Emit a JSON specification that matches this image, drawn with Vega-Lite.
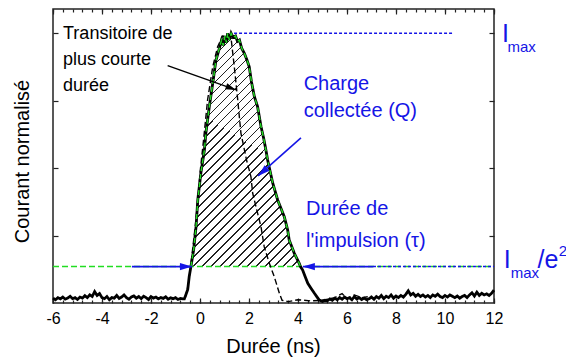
{
 "$schema": "https://vega.github.io/schema/vega-lite/v6.json",
 "width": 441, "height": 294,
 "autosize": "none",
 "padding": {"left": 53, "top": 9, "right": 72, "bottom": 56},
 "config": {"font": "Liberation Sans", "view": {"stroke": "#222", "strokeWidth": 1.5},
  "axis": {"domain": false, "grid": false, "tickColor": "#222", "tickWidth": 1.2, "labelColor": "#000", "titleColor": "#000", "titleFontWeight": "normal"}},
 "datasets": {
  "main": [
   {"x":-6.0,"y":0.018},{"x":-5.9,"y":0.012},{"x":-5.8,"y":0.02},{"x":-5.7,"y":0.015},{"x":-5.6,"y":0.022},{"x":-5.5,"y":0.014},{"x":-5.4,"y":0.018},{"x":-5.3,"y":0.025},{"x":-5.2,"y":0.016},{"x":-5.1,"y":0.02},{"x":-5.0,"y":0.013},{"x":-4.9,"y":0.022},{"x":-4.8,"y":0.018},{"x":-4.7,"y":0.027},{"x":-4.6,"y":0.02},{"x":-4.5,"y":0.03},{"x":-4.4,"y":0.024},{"x":-4.3,"y":0.042},{"x":-4.2,"y":0.028},{"x":-4.1,"y":0.035},{"x":-4.0,"y":0.02},{"x":-3.9,"y":0.016},{"x":-3.8,"y":0.024},{"x":-3.7,"y":0.012},{"x":-3.6,"y":0.02},{"x":-3.5,"y":0.018},{"x":-3.4,"y":0.028},{"x":-3.3,"y":0.017},{"x":-3.2,"y":0.022},{"x":-3.1,"y":0.03},{"x":-3.0,"y":0.02},{"x":-2.9,"y":0.014},{"x":-2.8,"y":0.022},{"x":-2.7,"y":0.026},{"x":-2.6,"y":0.018},{"x":-2.5,"y":0.024},{"x":-2.4,"y":0.016},{"x":-2.3,"y":0.025},{"x":-2.2,"y":0.02},{"x":-2.1,"y":0.013},{"x":-2.0,"y":0.024},{"x":-1.9,"y":0.018},{"x":-1.8,"y":0.022},{"x":-1.7,"y":0.015},{"x":-1.6,"y":0.02},{"x":-1.5,"y":0.017},{"x":-1.4,"y":0.023},{"x":-1.3,"y":0.014},{"x":-1.2,"y":0.019},{"x":-1.1,"y":0.016},{"x":-1.0,"y":0.02},{"x":-0.9,"y":0.013},{"x":-0.8,"y":0.017},{"x":-0.7,"y":0.015},
   {"x":-0.64,"y":0.015},{"x":-0.58,"y":0.03},{"x":-0.5,"y":0.05},{"x":-0.44,"y":0.098},{"x":-0.37,"y":0.135},{"x":-0.26,"y":0.197},{"x":-0.16,"y":0.284},{"x":-0.09,"y":0.382},{"x":0.04,"y":0.485},{"x":0.18,"y":0.567},{"x":0.24,"y":0.63},{"x":0.38,"y":0.728},{"x":0.52,"y":0.815},{"x":0.65,"y":0.9},{"x":0.79,"y":0.944},{"x":0.88,"y":0.975},{"x":0.95,"y":0.955},{"x":1.02,"y":0.99},{"x":1.08,"y":0.965},{"x":1.13,"y":1.0},{"x":1.2,"y":0.975},{"x":1.27,"y":1.0},{"x":1.35,"y":0.985},{"x":1.45,"y":0.99},{"x":1.53,"y":0.97},{"x":1.61,"y":0.975},{"x":1.7,"y":0.945},{"x":1.81,"y":0.926},{"x":1.92,"y":0.9},{"x":2.01,"y":0.876},{"x":2.1,"y":0.82},{"x":2.22,"y":0.765},{"x":2.35,"y":0.728},{"x":2.49,"y":0.654},{"x":2.6,"y":0.61},{"x":2.69,"y":0.567},{"x":2.76,"y":0.53},{"x":2.97,"y":0.444},{"x":3.17,"y":0.382},{"x":3.44,"y":0.32},{"x":3.58,"y":0.27},{"x":3.64,"y":0.234},{"x":3.85,"y":0.184},{"x":4.05,"y":0.147},{"x":4.1,"y":0.135},{"x":4.19,"y":0.122},{"x":4.29,"y":0.098},{"x":4.4,"y":0.073},{"x":4.53,"y":0.055},{"x":4.67,"y":0.036},{"x":4.78,"y":0.022},{"x":4.87,"y":0.011},
   {"x":5.0,"y":0.006},{"x":5.1,"y":0.01},{"x":5.2,"y":0.008},{"x":5.3,"y":0.015},{"x":5.4,"y":0.01},{"x":5.5,"y":0.018},{"x":5.6,"y":0.012},{"x":5.7,"y":0.02},{"x":5.8,"y":0.014},{"x":5.9,"y":0.022},{"x":6.0,"y":0.016},{"x":6.1,"y":0.02},{"x":6.2,"y":0.012},{"x":6.3,"y":0.024},{"x":6.4,"y":0.015},{"x":6.5,"y":0.02},{"x":6.6,"y":0.013},{"x":6.7,"y":0.018},{"x":6.8,"y":0.012},{"x":6.9,"y":0.016},{"x":7.0,"y":0.022},{"x":7.1,"y":0.014},{"x":7.2,"y":0.024},{"x":7.3,"y":0.018},{"x":7.4,"y":0.028},{"x":7.5,"y":0.016},{"x":7.6,"y":0.025},{"x":7.7,"y":0.02},{"x":7.8,"y":0.03},{"x":7.9,"y":0.018},{"x":8.0,"y":0.026},{"x":8.1,"y":0.02},{"x":8.2,"y":0.028},{"x":8.3,"y":0.022},{"x":8.4,"y":0.032},{"x":8.5,"y":0.045},{"x":8.6,"y":0.03},{"x":8.7,"y":0.036},{"x":8.8,"y":0.025},{"x":8.9,"y":0.032},{"x":9.0,"y":0.024},{"x":9.1,"y":0.03},{"x":9.2,"y":0.022},{"x":9.3,"y":0.028},{"x":9.4,"y":0.02},{"x":9.5,"y":0.03},{"x":9.6,"y":0.025},{"x":9.7,"y":0.033},{"x":9.8,"y":0.024},{"x":9.9,"y":0.02},{"x":10.0,"y":0.028},{"x":10.1,"y":0.022},{"x":10.2,"y":0.03},{"x":10.3,"y":0.025},{"x":10.4,"y":0.02},{"x":10.5,"y":0.026},{"x":10.6,"y":0.018},{"x":10.7,"y":0.024},{"x":10.8,"y":0.028},{"x":10.9,"y":0.02},{"x":11.0,"y":0.03},{"x":11.1,"y":0.038},{"x":11.2,"y":0.026},{"x":11.3,"y":0.04},{"x":11.4,"y":0.028},{"x":11.5,"y":0.036},{"x":11.6,"y":0.03},{"x":11.7,"y":0.034},{"x":11.8,"y":0.028},{"x":11.9,"y":0.036},{"x":12.0,"y":0.048}
  ],
  "short": [
   {"x":-0.6,"y":0.02},{"x":-0.5,"y":0.06},{"x":-0.4,"y":0.12},{"x":-0.3,"y":0.2},{"x":-0.2,"y":0.28},{"x":-0.1,"y":0.37},{"x":0.01,"y":0.49},{"x":0.14,"y":0.6},{"x":0.31,"y":0.753},{"x":0.52,"y":0.876},{"x":0.72,"y":0.95},{"x":0.85,"y":0.975},{"x":0.93,"y":0.99},{"x":1.05,"y":0.985},{"x":1.15,"y":0.995},{"x":1.27,"y":0.98},{"x":1.4,"y":0.876},{"x":1.54,"y":0.753},{"x":1.67,"y":0.63},{"x":1.9,"y":0.53},{"x":2.08,"y":0.468},{"x":2.15,"y":0.407},{"x":2.35,"y":0.333},{"x":2.49,"y":0.283},{"x":2.62,"y":0.209},{"x":2.83,"y":0.147},{"x":3.03,"y":0.098},{"x":3.24,"y":0.036},{"x":3.35,"y":0.01},{"x":3.6,"y":0.005},{"x":4.0,"y":0.012},{"x":4.5,"y":0.008},{"x":5.0,"y":0.01},{"x":5.5,"y":0.02},{"x":5.8,"y":0.035},{"x":6.0,"y":0.015},{"x":6.3,"y":0.03},{"x":6.6,"y":0.02},{"x":7.0,"y":0.025}
  ],
  "segs": [
   {"kind":"green","x":-6,"y":0.135,"x2":12,"y2":0.135},
   {"kind":"bluedot","x":7.06,"y":0.135,"x2":12,"y2":0.135},
   {"kind":"imax","x":1.39,"y":1.0,"x2":10.33,"y2":1.0},
   {"kind":"arrowL","x":-2.78,"y":0.135,"x2":-0.33,"y2":0.135},
   {"kind":"arrowR","x":7.06,"y":0.135,"x2":4.2,"y2":0.135},
   {"kind":"arrowQ","x":4.12,"y":0.612,"x2":2.37,"y2":0.471},
   {"kind":"arrowT","x":-1.32,"y":0.88,"x2":1.47,"y2":0.79}
  ],
  "labels": [
   {"g":"black","text":"Transitoire de","x":-5.59,"y":0.979},
   {"g":"black","text":"plus courte","x":-5.59,"y":0.882},
   {"g":"black","text":"durée","x":-5.59,"y":0.786},
   {"g":"blue","text":"Charge","x":4.23,"y":0.79},
   {"g":"blue","text":"collectée (Q)","x":4.23,"y":0.691},
   {"g":"blue","text":"Durée de","x":4.33,"y":0.326},
   {"g":"blue","text":"l'impulsion (τ)","x":4.33,"y":0.209},
   {"g":"big","text":"I","x":12.33,"y":0.968},
   {"g":"small","text":"max","x":12.55,"y":0.931},
   {"g":"big","text":"I","x":12.4,"y":0.13},
   {"g":"small","text":"max","x":12.68,"y":0.093},
   {"g":"big","text":"/e","x":13.78,"y":0.13},
   {"g":"small","text":"2","x":14.64,"y":0.174}
  ]
 },
 "resolve": {"axis": {"x": "independent", "y": "independent"}},
 "layer": [
  {
   "data": {"name": "main"},
   "transform": [{"filter": "datum.x >= -0.37 && datum.x <= 4.1"}],
   "mark": {"type": "area", "fill": {"gradient": "linear", "x1": 0, "y1": 0, "x2": 0.568, "y2": 1.2036, "stops": [
    {"offset":0,"color":"#222"},{"offset":0.0045,"color":"#222"},{"offset":0.0045,"color":"#fff"},{"offset":0.0263,"color":"#fff"},
    {"offset":0.0263,"color":"#222"},{"offset":0.0308,"color":"#222"},{"offset":0.0308,"color":"#fff"},{"offset":0.0526,"color":"#fff"},
    {"offset":0.0526,"color":"#222"},{"offset":0.0571,"color":"#222"},{"offset":0.0571,"color":"#fff"},{"offset":0.0789,"color":"#fff"},
    {"offset":0.0789,"color":"#222"},{"offset":0.0834,"color":"#222"},{"offset":0.0834,"color":"#fff"},{"offset":0.1052,"color":"#fff"},
    {"offset":0.1052,"color":"#222"},{"offset":0.1097,"color":"#222"},{"offset":0.1097,"color":"#fff"},{"offset":0.1315,"color":"#fff"},
    {"offset":0.1315,"color":"#222"},{"offset":0.136,"color":"#222"},{"offset":0.136,"color":"#fff"},{"offset":0.1578,"color":"#fff"},
    {"offset":0.1578,"color":"#222"},{"offset":0.1623,"color":"#222"},{"offset":0.1623,"color":"#fff"},{"offset":0.1841,"color":"#fff"},
    {"offset":0.1841,"color":"#222"},{"offset":0.1886,"color":"#222"},{"offset":0.1886,"color":"#fff"},{"offset":0.2104,"color":"#fff"},
    {"offset":0.2104,"color":"#222"},{"offset":0.2149,"color":"#222"},{"offset":0.2149,"color":"#fff"},{"offset":0.2367,"color":"#fff"},
    {"offset":0.2367,"color":"#222"},{"offset":0.2412,"color":"#222"},{"offset":0.2412,"color":"#fff"},{"offset":0.263,"color":"#fff"},
    {"offset":0.263,"color":"#222"},{"offset":0.2675,"color":"#222"},{"offset":0.2675,"color":"#fff"},{"offset":0.2893,"color":"#fff"},
    {"offset":0.2893,"color":"#222"},{"offset":0.2938,"color":"#222"},{"offset":0.2938,"color":"#fff"},{"offset":0.3156,"color":"#fff"},
    {"offset":0.3156,"color":"#222"},{"offset":0.3201,"color":"#222"},{"offset":0.3201,"color":"#fff"},{"offset":0.3419,"color":"#fff"},
    {"offset":0.3419,"color":"#222"},{"offset":0.3464,"color":"#222"},{"offset":0.3464,"color":"#fff"},{"offset":0.3682,"color":"#fff"},
    {"offset":0.3682,"color":"#222"},{"offset":0.3727,"color":"#222"},{"offset":0.3727,"color":"#fff"},{"offset":0.3945,"color":"#fff"},
    {"offset":0.3945,"color":"#222"},{"offset":0.399,"color":"#222"},{"offset":0.399,"color":"#fff"},{"offset":0.4208,"color":"#fff"},
    {"offset":0.4208,"color":"#222"},{"offset":0.4253,"color":"#222"},{"offset":0.4253,"color":"#fff"},{"offset":0.4471,"color":"#fff"},
    {"offset":0.4471,"color":"#222"},{"offset":0.4516,"color":"#222"},{"offset":0.4516,"color":"#fff"},{"offset":0.4734,"color":"#fff"},
    {"offset":0.4734,"color":"#222"},{"offset":0.4779,"color":"#222"},{"offset":0.4779,"color":"#fff"},{"offset":0.4997,"color":"#fff"},
    {"offset":0.4997,"color":"#222"},{"offset":0.5042,"color":"#222"},{"offset":0.5042,"color":"#fff"},{"offset":0.526,"color":"#fff"},
    {"offset":0.526,"color":"#222"},{"offset":0.5305,"color":"#222"},{"offset":0.5305,"color":"#fff"},{"offset":0.5523,"color":"#fff"},
    {"offset":0.5523,"color":"#222"},{"offset":0.5568,"color":"#222"},{"offset":0.5568,"color":"#fff"},{"offset":0.5786,"color":"#fff"},
    {"offset":0.5786,"color":"#222"},{"offset":0.5831,"color":"#222"},{"offset":0.5831,"color":"#fff"},{"offset":0.6049,"color":"#fff"},
    {"offset":0.6049,"color":"#222"},{"offset":0.6094,"color":"#222"},{"offset":0.6094,"color":"#fff"},{"offset":0.6312,"color":"#fff"},
    {"offset":0.6312,"color":"#222"},{"offset":0.6357,"color":"#222"},{"offset":0.6357,"color":"#fff"},{"offset":0.6575,"color":"#fff"},
    {"offset":0.6575,"color":"#222"},{"offset":0.662,"color":"#222"},{"offset":0.662,"color":"#fff"},{"offset":0.6838,"color":"#fff"},
    {"offset":0.6838,"color":"#222"},{"offset":0.6883,"color":"#222"},{"offset":0.6883,"color":"#fff"},{"offset":0.7101,"color":"#fff"},
    {"offset":0.7101,"color":"#222"},{"offset":0.7146,"color":"#222"},{"offset":0.7146,"color":"#fff"},{"offset":0.7364,"color":"#fff"},
    {"offset":0.7364,"color":"#222"},{"offset":0.7409,"color":"#222"},{"offset":0.7409,"color":"#fff"},{"offset":0.7627,"color":"#fff"},
    {"offset":0.7627,"color":"#222"},{"offset":0.7672,"color":"#222"},{"offset":0.7672,"color":"#fff"},{"offset":0.789,"color":"#fff"},
    {"offset":0.789,"color":"#222"},{"offset":0.7935,"color":"#222"},{"offset":0.7935,"color":"#fff"},{"offset":0.8153,"color":"#fff"},
    {"offset":0.8153,"color":"#222"},{"offset":0.8198,"color":"#222"},{"offset":0.8198,"color":"#fff"},{"offset":0.8416,"color":"#fff"},
    {"offset":0.8416,"color":"#222"},{"offset":0.8461,"color":"#222"},{"offset":0.8461,"color":"#fff"},{"offset":0.8679,"color":"#fff"},
    {"offset":0.8679,"color":"#222"},{"offset":0.8724,"color":"#222"},{"offset":0.8724,"color":"#fff"},{"offset":0.8942,"color":"#fff"},
    {"offset":0.8942,"color":"#222"},{"offset":0.8987,"color":"#222"},{"offset":0.8987,"color":"#fff"},{"offset":0.9205,"color":"#fff"},
    {"offset":0.9205,"color":"#222"},{"offset":0.925,"color":"#222"},{"offset":0.925,"color":"#fff"},{"offset":0.9468,"color":"#fff"},
    {"offset":0.9468,"color":"#222"},{"offset":0.9513,"color":"#222"},{"offset":0.9513,"color":"#fff"},{"offset":0.9731,"color":"#fff"},
    {"offset":0.9731,"color":"#222"},{"offset":0.9776,"color":"#222"},{"offset":0.9776,"color":"#fff"},{"offset":1,"color":"#fff"}
   ]}},
   "encoding": {
    "x": {"field": "x", "type": "quantitative", "scale": {"domain": [-6, 12], "nice": false},
     "axis": {"orient": "bottom", "values": [-6,-4,-2,0,2,4,6,8,10,12], "tickSize": -5, "labelPadding": 12, "labelFontSize": 16, "labelFlush": false,
      "labelExpr": "'' + datum.value",
      "title": "Durée (ns)", "titleFontSize": 20, "titleX": 220, "titleY": 43, "titleBaseline": "middle", "titleAlign": "center"}},
    "y": {"field": "y", "type": "quantitative", "scale": {"domain": [0, 1.09], "nice": false},
     "axis": {"orient": "left", "values": [0.25, 0.5, 0.75, 1], "tickSize": -5, "labels": false,
      "title": "Courant normalisé", "titleFontSize": 20, "titleX": -31, "titleY": 152, "titleAngle": 270, "titleBaseline": "middle", "titleAlign": "center"}},
    "y2": {"datum": 0.135}
   }
  },
  {
   "data": {"name": "segs"},
   "transform": [{"filter": "datum.kind == 'green'"}],
   "mark": {"type": "rule", "color": "#22dd22", "strokeWidth": 1.5, "strokeDash": [6, 3]},
   "encoding": {
    "x": {"field": "x", "type": "quantitative", "scale": {"domain": [-6, 12], "nice": false},
     "axis": {"orient": "bottom", "values": [-6,-5.6,-5.2,-4.8,-4.4,-4,-3.6,-3.2,-2.8,-2.4,-2,-1.6,-1.2,-0.8,-0.4,0,0.4,0.8,1.2,1.6,2,2.4,2.8,3.2,3.6,4,4.4,4.8,5.2,5.6,6,6.4,6.8,7.2,7.6,8,8.4,8.8,9.2,9.6,10,10.4,10.8,11.2,11.6,12], "tickSize": -3, "labels": false, "title": null}},
    "x2": {"field": "x2"},
    "y": {"field": "y", "type": "quantitative", "scale": {"domain": [0, 1.09], "nice": false},
     "axis": {"orient": "right", "values": [0.25, 0.5, 0.75, 1], "tickSize": -5, "labels": false, "title": null}}
   }
  },
  {
   "data": {"name": "segs"},
   "transform": [{"filter": "datum.kind == 'bluedot' || datum.kind == 'imax'"}],
   "mark": {"type": "rule", "color": "#1515e6", "strokeWidth": 1.5, "strokeDash": [3, 2]},
   "encoding": {
    "x": {"field": "x", "type": "quantitative", "scale": {"domain": [-6, 12], "nice": false}, "axis": null},
    "x2": {"field": "x2"},
    "y": {"field": "y", "type": "quantitative", "scale": {"domain": [0, 1.09], "nice": false}, "axis": null}
   }
  },
  {
   "data": {"name": "short"},
   "mark": {"type": "line", "color": "#000", "strokeWidth": 1.4, "strokeDash": [6, 3]},
   "encoding": {
    "x": {"field": "x", "type": "quantitative", "scale": {"domain": [-6, 12], "nice": false},
     "axis": {"orient": "top", "values": [-6,-4,-2,0,2,4,6,8,10,12], "tickSize": -5, "labels": false, "title": null}},
    "y": {"field": "y", "type": "quantitative", "scale": {"domain": [0, 1.09], "nice": false}, "axis": null}
   }
  },
  {
   "data": {"name": "main"},
   "mark": {"type": "line", "color": "#000", "strokeWidth": 2.8},
   "encoding": {
    "x": {"field": "x", "type": "quantitative", "scale": {"domain": [-6, 12], "nice": false},
     "axis": {"orient": "top", "values": [-6,-5.6,-5.2,-4.8,-4.4,-4,-3.6,-3.2,-2.8,-2.4,-2,-1.6,-1.2,-0.8,-0.4,0,0.4,0.8,1.2,1.6,2,2.4,2.8,3.2,3.6,4,4.4,4.8,5.2,5.6,6,6.4,6.8,7.2,7.6,8,8.4,8.8,9.2,9.6,10,10.4,10.8,11.2,11.6,12], "tickSize": -3, "labels": false, "title": null}},
    "y": {"field": "y", "type": "quantitative", "scale": {"domain": [0, 1.09], "nice": false}, "axis": null}
   }
  },
  {
   "data": {"name": "main"},
   "transform": [{"filter": "datum.x >= -0.37 && datum.x <= 4.1"}],
   "mark": {"type": "line", "color": "#22dd22", "strokeWidth": 1.4, "strokeDash": [5, 3]},
   "encoding": {
    "x": {"field": "x", "type": "quantitative", "scale": {"domain": [-6, 12], "nice": false}, "axis": null},
    "y": {"field": "y", "type": "quantitative", "scale": {"domain": [0, 1.09], "nice": false}, "axis": null}
   }
  },
  {
   "data": {"name": "segs"},
   "transform": [{"filter": "datum.kind == 'arrowL' || datum.kind == 'arrowR' || datum.kind == 'arrowQ'"}],
   "mark": {"type": "rule", "color": "#1515e6", "strokeWidth": 1.6},
   "encoding": {
    "x": {"field": "x", "type": "quantitative", "scale": {"domain": [-6, 12], "nice": false}, "axis": null},
    "x2": {"field": "x2"},
    "y": {"field": "y", "type": "quantitative", "scale": {"domain": [0, 1.09], "nice": false}, "axis": null},
    "y2": {"field": "y2"}
   }
  },
  {
   "data": {"name": "segs"},
   "transform": [{"filter": "datum.kind == 'arrowT'"}],
   "mark": {"type": "rule", "color": "#000", "strokeWidth": 1.4},
   "encoding": {
    "x": {"field": "x", "type": "quantitative", "scale": {"domain": [-6, 12], "nice": false}, "axis": null},
    "x2": {"field": "x2"},
    "y": {"field": "y", "type": "quantitative", "scale": {"domain": [0, 1.09], "nice": false}, "axis": null},
    "y2": {"field": "y2"}
   }
  },
  {
   "data": {"name": "segs"},
   "transform": [{"filter": "datum.kind == 'arrowL'"}],
   "mark": {"type": "point", "shape": "M0,0L-2,-0.6L-2,0.6Z", "size": 144, "filled": true, "color": "#1515e6", "opacity": 1, "angle": 0},
   "encoding": {
    "x": {"field": "x2", "type": "quantitative", "scale": {"domain": [-6, 12], "nice": false}, "axis": null},
    "y": {"field": "y2", "type": "quantitative", "scale": {"domain": [0, 1.09], "nice": false}, "axis": null}
   }
  },
  {
   "data": {"name": "segs"},
   "transform": [{"filter": "datum.kind == 'arrowR'"}],
   "mark": {"type": "point", "shape": "M0,0L-2,-0.6L-2,0.6Z", "size": 144, "filled": true, "color": "#1515e6", "opacity": 1, "angle": 180},
   "encoding": {
    "x": {"field": "x2", "type": "quantitative", "scale": {"domain": [-6, 12], "nice": false}, "axis": null},
    "y": {"field": "y2", "type": "quantitative", "scale": {"domain": [0, 1.09], "nice": false}, "axis": null}
   }
  },
  {
   "data": {"name": "segs"},
   "transform": [{"filter": "datum.kind == 'arrowQ'"}],
   "mark": {"type": "point", "shape": "M0,0L-2,-0.6L-2,0.6Z", "size": 144, "filled": true, "color": "#1515e6", "opacity": 1, "angle": 138.5},
   "encoding": {
    "x": {"field": "x2", "type": "quantitative", "scale": {"domain": [-6, 12], "nice": false}, "axis": null},
    "y": {"field": "y2", "type": "quantitative", "scale": {"domain": [0, 1.09], "nice": false}, "axis": null}
   }
  },
  {
   "data": {"name": "segs"},
   "transform": [{"filter": "datum.kind == 'arrowT'"}],
   "mark": {"type": "point", "shape": "M0,0L-2,-0.6L-2,0.6Z", "size": 110, "filled": true, "color": "#000", "opacity": 1, "angle": 20},
   "encoding": {
    "x": {"field": "x2", "type": "quantitative", "scale": {"domain": [-6, 12], "nice": false}, "axis": null},
    "y": {"field": "y2", "type": "quantitative", "scale": {"domain": [0, 1.09], "nice": false}, "axis": null}
   }
  },
  {
   "data": {"name": "labels"},
   "transform": [{"filter": "datum.g == 'black'"}],
   "mark": {"type": "text", "align": "left", "baseline": "alphabetic", "fontSize": 18, "color": "#000"},
   "encoding": {
    "x": {"field": "x", "type": "quantitative", "scale": {"domain": [-6, 12], "nice": false}, "axis": null},
    "y": {"field": "y", "type": "quantitative", "scale": {"domain": [0, 1.09], "nice": false}, "axis": null},
    "text": {"field": "text"}
   }
  },
  {
   "data": {"name": "labels"},
   "transform": [{"filter": "datum.g == 'blue'"}],
   "mark": {"type": "text", "align": "left", "baseline": "alphabetic", "fontSize": 20, "color": "#1515e6"},
   "encoding": {
    "x": {"field": "x", "type": "quantitative", "scale": {"domain": [-6, 12], "nice": false}, "axis": null},
    "y": {"field": "y", "type": "quantitative", "scale": {"domain": [0, 1.09], "nice": false}, "axis": null},
    "text": {"field": "text"}
   }
  },
  {
   "data": {"name": "labels"},
   "transform": [{"filter": "datum.g == 'big'"}],
   "mark": {"type": "text", "align": "left", "baseline": "alphabetic", "fontSize": 25, "color": "#1515e6"},
   "encoding": {
    "x": {"field": "x", "type": "quantitative", "scale": {"domain": [-6, 12], "nice": false}, "axis": null},
    "y": {"field": "y", "type": "quantitative", "scale": {"domain": [0, 1.09], "nice": false}, "axis": null},
    "text": {"field": "text"}
   }
  },
  {
   "data": {"name": "labels"},
   "transform": [{"filter": "datum.g == 'small'"}],
   "mark": {"type": "text", "align": "left", "baseline": "alphabetic", "fontSize": 15, "color": "#1515e6"},
   "encoding": {
    "x": {"field": "x", "type": "quantitative", "scale": {"domain": [-6, 12], "nice": false}, "axis": null},
    "y": {"field": "y", "type": "quantitative", "scale": {"domain": [0, 1.09], "nice": false}, "axis": null},
    "text": {"field": "text"}
   }
  }
 ]
}
